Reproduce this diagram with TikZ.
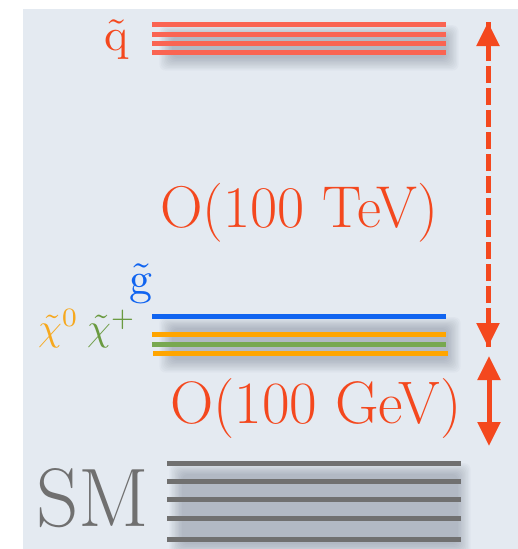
\documentclass[tikz,border=0pt]{standalone}
\usepackage{graphicx}
\usetikzlibrary{arrows.meta}
\definecolor{paper}{RGB}{228,234,241}
\definecolor{redtxt}{RGB}{244,72,30}
\definecolor{sqline}{RGB}{250,100,82}
\definecolor{gblue}{RGB}{16,100,240}
\definecolor{orng}{RGB}{255,165,0}
\definecolor{orngtxt}{RGB}{246,168,30}
\definecolor{grn}{RGB}{120,168,80}
\definecolor{grntxt}{RGB}{106,154,64}
\definecolor{smgray}{RGB}{112,112,112}
\definecolor{shadowc}{RGB}{60,70,90}
\tikzset{
  lvl/.style={line width=5pt},
  shadlayer/.style={fill=shadowc, fill opacity=0.032, rounded corners=6pt},
  bigarrow/.style={line width=5pt, color=redtxt, -{Triangle[width=22pt,length=24pt]}},
  dblarrow/.style={line width=5pt, color=redtxt, {Triangle[width=22pt,length=24pt]}-{Triangle[width=22pt,length=24pt]}},
  lab/.style={inner sep=0pt, anchor=base west}
}
\newcommand{\softshade}[4]{%
  \foreach \i in {0,...,9} {
    \fill[shadlayer] ({#1-1.4*\i},{#2-1.2*\i}) rectangle ({#3+1.4*\i},{#4+1.4*\i});
  }%
}
\begin{document}
\begin{tikzpicture}[x=1pt,y=-1pt]
\useasboundingbox (0,0) rectangle (518,549);
\fill[paper] (23,9) rectangle (518,549);
% shadows
\softshade{172}{36}{446}{58}
\softshade{172}{328}{448}{360}
\softshade{182}{474}{458}{544}
% squark levels
\foreach \y in {24,34,43,52} \draw[lvl,sqline] (152,\y) -- (446,\y);
% gluino and electroweakinos
\draw[lvl,gblue] (152,316) -- (446,316);
\draw[lvl,orng] (152,334) -- (446,334);
\draw[lvl,grn] (152,344) -- (446,344);
\draw[lvl,orng] (153,353) -- (448,353);
% SM levels
\foreach \y in {463,481,499,518,539} \draw[lvl,smgray] (167,\y) -- (461,\y);
% labels
\node[lab,text=redtxt] (sq) at (104,50) {\scalebox{4.6}{$\tilde{\mathrm{q}}$}};
\node[lab,text=gblue] (gl) at (129,294) {\scalebox{4.6}{$\tilde{\mathrm{g}}$}};
\node[lab,text=orngtxt] (chi0) at (38,340) {\scalebox{3.8}{$\scriptspace=0pt\tilde{\chi}^{0}$}};
\node[lab,text=grntxt] (chip) at (87,340) {\scalebox{3.8}{$\scriptspace=0pt\tilde{\chi}^{+}$}};
\node[lab,text=redtxt,font=\fontsize{59}{63}\selectfont] (tev) at (160,227) {O(100 TeV)};
\node[lab,text=redtxt,font=\fontsize{60}{64}\selectfont] (gev) at (170,423) {O(100 GeV)};
\node[lab,text=smgray,font=\fontsize{83}{88}\selectfont] (sm) at (36,526) {SM};
% arrows
\coordinate (atop) at (488,22);
\coordinate (amid) at (488,347);
\coordinate (btop) at (489,356);
\coordinate (bbot) at (489,446);
\draw[bigarrow, dash pattern=on 11pt off 11pt] (atop) -- (amid);
\draw[bigarrow, dash pattern=on 11pt off 11pt] (amid) -- (atop);
\draw[dblarrow] (btop) -- (bbot);
\end{tikzpicture}
\end{document}
